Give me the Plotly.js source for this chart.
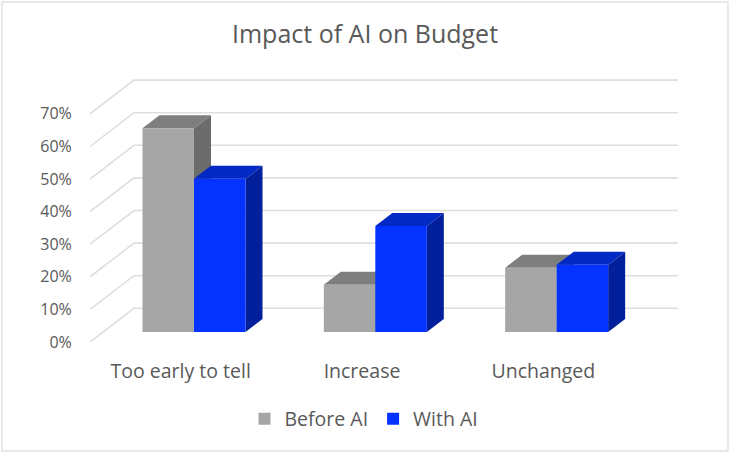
<!DOCTYPE html>
<html>
<head>
<meta charset="utf-8">
<script src="https://cdn.plot.ly/plotly-3.0.1.min.js"></script>
<style>html,body{margin:0;padding:0;background:#fff}#chart{width:732px;height:454px}</style>
</head>
<body>
<div id="chart"></div>
<script>
const categories = ["Too early to tell", "Increase", "Unchanged"];
const beforeAI = [62.5, 14.5, 19.7];
const withAI = [47, 32.5, 20.6];
const tickValues = [0, 10, 20, 30, 40, 50, 60, 70];
const tickLabels = ["0%", "10%", "20%", "30%", "40%", "50%", "60%", "70%"];
const positions = [0, 1, 2];

// oblique projection, expressed in axis units
const wallDx = 0.2427, wallDy = 10.33;   // depth of the floor
const barDx = 0.0938, barDy = 3.99;      // depth of a bar
const barBase = 3.07;                    // front of bars above front of floor
const barWidth = 0.284;
const greyOffset = -0.2105, blueOffset = 0.0735;
const xMin = -0.5, xMax = 2.5;

const grey = "#a6a6a6", greySide = "#6c6c6c", greyTop = "#7e7e7e";
const blue = "#0433ff", blueSide = "#021f9c", blueTop = "#0329c4";
const gridColor = "#dedede", textColor = "#595959";
const fontFamily = '"Open Sans", sans-serif';

function poly(points, fill) {
  return {
    type: "path", xref: "x", yref: "y", layer: "below",
    path: "M" + points.map(p => p[0] + "," + p[1]).join(" L") + " Z",
    fillcolor: fill, line: {width: 0}
  };
}
function gridline(v) {
  return {
    type: "path", xref: "x", yref: "y", layer: "below",
    path: "M" + xMin + "," + v + " L" + (xMin + wallDx) + "," + (v + wallDy) + " L" + (xMax + wallDx) + "," + (v + wallDy),
    line: {color: gridColor, width: 1.6}
  };
}
function depthFaces(values, offset, sideColor, topColor) {
  const out = [];
  values.forEach((v, i) => {
    const l = positions[i] + offset, r = l + barWidth, t = barBase + v;
    out.push(poly([[r, barBase], [r + barDx, barBase + barDy], [r + barDx, t + barDy], [r, t]], sideColor));
    out.push(poly([[l, t], [l + barDx, t + barDy], [r + barDx, t + barDy], [r, t]], topColor));
  });
  return out;
}

const plotH = 370;
const shapes = [
  {type: "rect", xref: "paper", yref: "paper", layer: "below",
   x0: -88 / 588, x1: 638 / 588, y0: -11 / plotH, y1: 1 + 68 / plotH,
   line: {color: "#e2e2e2", width: 1.5}, fillcolor: "rgba(0,0,0,0)"}
].concat(
  tickValues.map(gridline),
  depthFaces(beforeAI, greyOffset, greySide, greyTop),
  depthFaces(withAI, blueOffset, blueSide, blueTop)
);

const traces = [
  {type: "bar", name: "Before AI", x: positions, y: beforeAI, base: barBase,
   width: barWidth, offset: greyOffset, marker: {color: grey, line: {width: 0}}, hoverinfo: "skip"},
  {type: "bar", name: "With AI", x: positions, y: withAI, base: barBase,
   width: barWidth, offset: blueOffset, marker: {color: blue, line: {width: 0}}, hoverinfo: "skip"}
];

const layout = {
  width: 732, height: 454,
  paper_bgcolor: "#ffffff", plot_bgcolor: "rgba(0,0,0,0)",
  margin: {l: 90, r: 54, t: 70, b: 14, pad: 0},
  font: {family: fontFamily, color: textColor},
  title: {text: "Impact of AI on Budget", font: {family: fontFamily, size: 25, color: textColor},
          x: 365 / 732, xanchor: "center", y: 1 - 34 / 454, yanchor: "middle"},
  barmode: "overlay",
  showlegend: true,
  legend: {orientation: "h", x: (364 - 90) / 588, xanchor: "center",
           y: (440 - 419) / plotH, yanchor: "middle", font: {size: 19.5, color: textColor},
           bgcolor: "rgba(0,0,0,0)", traceorder: "normal", itemclick: false, itemdoubleclick: false},
  xaxis: {type: "linear", range: [xMin, xMax + wallDx], tickmode: "array", tickvals: positions, ticktext: categories,
          showgrid: false, zeroline: false, showline: false, ticks: "outside", ticklen: 12,
          tickcolor: "rgba(0,0,0,0)", tickfont: {size: 19.5, color: textColor}, fixedrange: true},
  yaxis: {type: "linear", domain: [98 / plotH, 1], range: [0, 272 / 3.26], tickmode: "array", tickvals: tickValues, ticktext: tickLabels,
          showgrid: false, zeroline: false, showline: false, ticks: "outside", ticklen: 14,
          tickcolor: "rgba(0,0,0,0)", tickfont: {size: 16, color: textColor}, fixedrange: true},
  shapes: shapes
};

Plotly.newPlot("chart", traces, layout, {displayModeBar: false, staticPlot: true});
</script>
</body>
</html>
